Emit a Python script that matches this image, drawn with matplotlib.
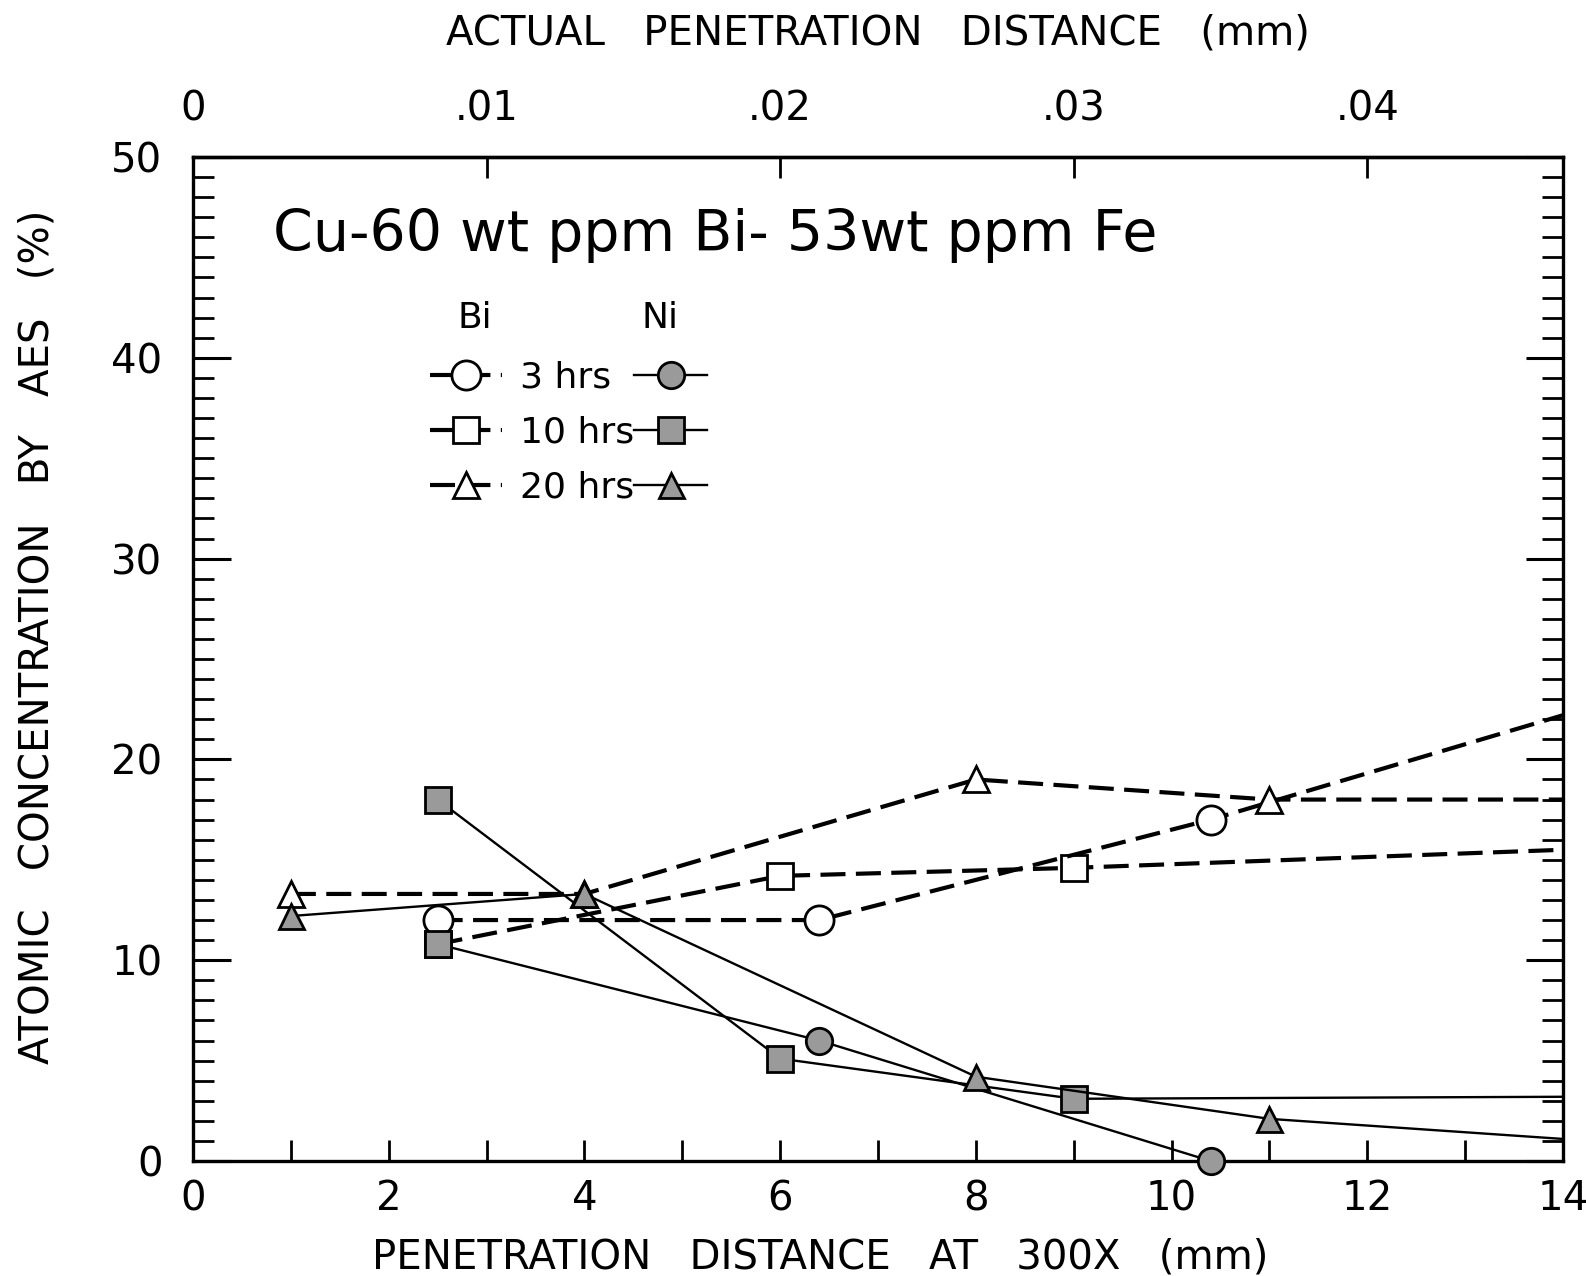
import matplotlib.pyplot as plt
from matplotlib.ticker import MultipleLocator, FixedLocator

plt.rcParams['font.family'] = ['DejaVu Sans']

# Bi profiles (dashed, open symbols); last point of a run carries no symbol
bi3_x = [2.5, 6.4, 10.4, 14.0]
bi3_y = [12.0, 12.0, 17.0, 22.2]
bi10_x = [2.5, 6.0, 9.0, 14.0]
bi10_y = [10.8, 14.2, 14.6, 15.5]
bi20_x = [1.0, 4.0, 8.0, 11.0, 14.0]
bi20_y = [13.3, 13.3, 19.0, 18.0, 18.0]

# Ni profiles (solid, filled symbols)
ni3_x = [2.5, 6.4, 10.4]
ni3_y = [10.8, 6.0, 0.0]
ni10_x = [2.5, 6.0, 9.0, 14.0]
ni10_y = [18.0, 5.1, 3.1, 3.2]
ni20_x = [1.0, 4.0, 8.0, 11.0, 14.0]
ni20_y = [12.2, 13.3, 4.2, 2.1, 1.1]

times = ['3 hrs', '10 hrs', '20 hrs']
top_ticks = [0, 0.01, 0.02, 0.03, 0.04]
top_labels = ['0', '.01', '.02', '.03', '.04']
magnification = 300.0

fill = '#9a9a9a'
dash = (6, 2.5)

fig = plt.figure(figsize=(15.86, 12.76), dpi=100)
ax = fig.add_axes([0.1217, 0.0901, 0.8638, 0.7869])

bi3, = ax.plot(bi3_x, bi3_y, color='k', lw=3, dashes=dash, marker='o', ms=21,
               mfc='white', mec='k', mew=2, markevery=[0, 1, 2], zorder=3)
bi10, = ax.plot(bi10_x, bi10_y, color='k', lw=3, dashes=dash, marker='s', ms=19,
                mfc='white', mec='k', mew=2, markevery=[0, 1, 2], zorder=2)
bi20, = ax.plot(bi20_x, bi20_y, color='k', lw=3, dashes=dash, marker='^', ms=19,
                mfc='white', mec='k', mew=2, markevery=[0, 1, 2, 3], zorder=3)

ni3, = ax.plot(ni3_x, ni3_y, color='k', lw=1.7, marker='o', ms=19,
               mfc=fill, mec='k', mew=2, markevery=[1, 2], zorder=4, clip_on=False)
# the 2.5 mm point of this run is drawn with a square symbol
ax.plot(ni3_x[:1], ni3_y[:1], ls='none', marker='s', ms=19, mfc=fill, mec='k',
        mew=2, zorder=5)
ni10, = ax.plot(ni10_x, ni10_y, color='k', lw=1.7, marker='s', ms=19,
                mfc=fill, mec='k', mew=2, markevery=[0, 1, 2], zorder=4)
ni20, = ax.plot(ni20_x, ni20_y, color='k', lw=1.7, marker='^', ms=18,
                mfc=fill, mec='k', mew=2, markevery=[0, 1, 2, 3], zorder=4)

ax.set_xlim(0, 14)
ax.set_ylim(0, 50)

for s in ax.spines.values():
    s.set_linewidth(2.4)

ax.xaxis.set_major_locator(MultipleLocator(2))
ax.xaxis.set_minor_locator(MultipleLocator(1))
ax.yaxis.set_major_locator(MultipleLocator(10))
ax.yaxis.set_minor_locator(MultipleLocator(1))

ax.tick_params(axis='x', which='both', direction='in', length=15, width=2,
               top=False, labelsize=29, pad=13)
ax.tick_params(axis='y', which='major', direction='in', length=27, width=2.2,
               left=True, right=True, labelsize=29, pad=22)
ax.tick_params(axis='y', which='minor', direction='in', length=15, width=2,
               left=True, right=True)

ax.set_xlabel('PENETRATION   DISTANCE   AT   300X   (mm)', fontsize=29)
ax.xaxis.set_label_coords(0.458, -0.076)
ax.set_ylabel('ATOMIC   CONCENTRATION   BY   AES   (%)', fontsize=29)
ax.yaxis.set_label_coords(-0.099, 0.522)

top = ax.secondary_xaxis('top', functions=(lambda x: x / magnification,
                                           lambda x: x * magnification))
top.xaxis.set_major_locator(FixedLocator(top_ticks))
top.set_xticklabels(top_labels)
top.tick_params(direction='in', length=15, width=2, labelsize=29, pad=20)
top.spines['top'].set_linewidth(2.4)
top.set_xlabel('ACTUAL   PENETRATION   DISTANCE   (mm)', fontsize=29, labelpad=32)

ax.text(0.381, 0.922, 'Cu-60 wt ppm Bi- 53wt ppm Fe', transform=ax.transAxes,
        ha='center', va='center', fontsize=41)

# two-column key: Bi symbols with the time labels, Ni symbols beside them
leg = ax.legend([bi3, bi10, bi20, ni3, ni10, ni20], times + ['', '', ''],
                ncol=2, loc='upper left', bbox_to_anchor=(0.173, 0.797),
                frameon=False, fontsize=26, handlelength=2.0, handletextpad=0.5,
                columnspacing=0.0, labelspacing=0.58, borderpad=0, numpoints=1,
                borderaxespad=0)
ax.text(0.206, 0.84, 'Bi', transform=ax.transAxes, ha='center', va='center',
        fontsize=26)
ax.text(0.341, 0.84, 'Ni', transform=ax.transAxes, ha='center', va='center',
        fontsize=26)

fig.savefig('out.png', dpi=100)
